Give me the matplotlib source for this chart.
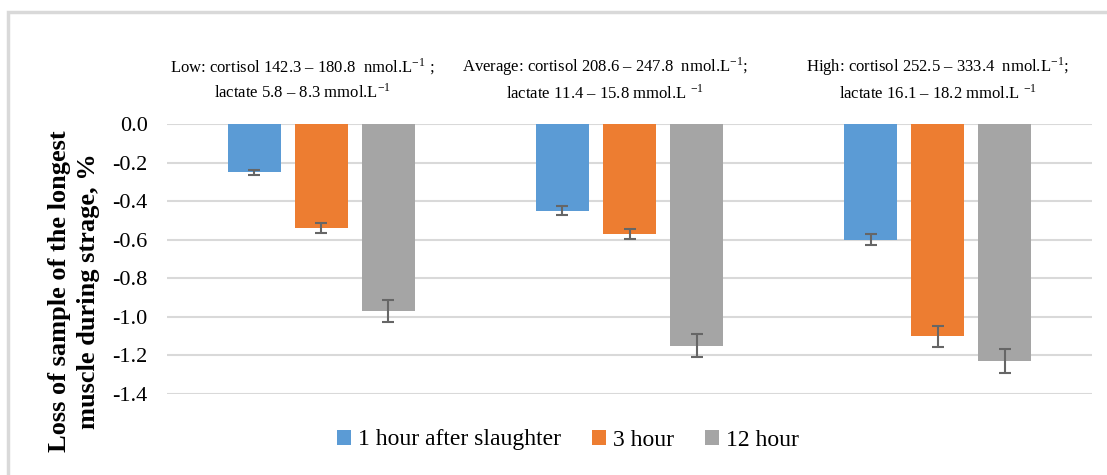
import numpy as np
import matplotlib.pyplot as plt
from matplotlib.patches import Rectangle
from matplotlib.transforms import blended_transform_factory

plt.rcParams['font.family'] = ['Liberation Serif', 'DejaVu Serif']
plt.rcParams['mathtext.fontset'] = 'stix'

# данные
groups = ['Low', 'Average', 'High']
series = ['1 hour after slaughter', '3 hour', '12 hour']
vals_1h = [-0.25, -0.45, -0.60]
vals_3h = [-0.54, -0.57, -1.10]
vals_12h = [-0.97, -1.15, -1.23]
err_1h = [0.013, 0.023, 0.03]
err_3h = [0.027, 0.028, 0.055]
err_12h = [0.055, 0.059, 0.062]
yticks = [0.0, -0.2, -0.4, -0.6, -0.8, -1.0, -1.2, -1.4]
notes = [
    'Low: cortisol 142.3 – 180.8  nmol.L$^{\\mathregular{-1}}$ ;\nlactate 5.8 – 8.3 mmol.L$^{\\mathregular{-1}}$',
    'Average: cortisol 208.6 – 247.8  nmol.L$^{\\mathregular{-1}}$;\nlactate 11.4 – 15.8 mmol.L $^{\\mathregular{-1}}$',
    'High: cortisol 252.5 – 333.4  nmol.L$^{\\mathregular{-1}}$;\nlactate 16.1 – 18.2 mmol.L $^{\\mathregular{-1}}$',
]
note_shift = [-0.06, -0.08, 0.0]

colors = ['#5B9BD5', '#ED7D31', '#A5A5A5']
serif = 'Liberation Serif'

fig = plt.figure(figsize=(11.07, 4.75), dpi=100)
ax = fig.add_axes([0.1509, 0.1705, 0.8356, 0.5685])

# рамка области диаграммы
fig.patches.append(Rectangle((8 / 1107, -0.05), 1.1, 1 - 12 / 475 + 0.05,
                             transform=fig.transFigure, fill=False,
                             edgecolor='#D9D9D9', lw=2.5))

x = np.arange(len(groups))
w = 0.172
step = 0.2175
all_vals = [vals_1h, vals_3h, vals_12h]
all_errs = [err_1h, err_3h, err_12h]
for i in range(3):
    ax.bar(x + (i - 1) * step, all_vals[i], w, color=colors[i], label=series[i],
           yerr=all_errs[i], capsize=4.5,
           error_kw=dict(ecolor='#666666', elinewidth=1.5, capthick=1.5),
           zorder=3)

ax.set_xlim(-0.5, 2.5)
ax.set_ylim(-1.4, 0.0)
ax.set_yticks(yticks)
ax.set_yticklabels([f'{t:.1f}' for t in yticks], fontsize=16, family=serif)
ax.tick_params(axis='y', length=0, pad=14)
ax.set_xticks([])
ax.grid(axis='y', color='#D9D9D9', lw=1.5, zorder=0)
ax.set_axisbelow(True)
for s in ax.spines.values():
    s.set_visible(False)

# подписи групп
tr = blended_transform_factory(ax.transData, fig.transFigure)
for i in range(3):
    ax.text(x[i] + note_shift[i], 1 - 79 / 475, notes[i], transform=tr,
            ha='center', va='center', fontsize=12, linespacing=1.45, family=serif)

fig.text(0.067, 1 - 291 / 475, 'Loss of sample of the longest\nmuscle during strage, %',
         rotation=90, ha='center', va='center', fontsize=19, fontweight='bold',
         linespacing=1.35, family=serif)

leg = ax.legend(loc='center', bbox_to_anchor=(568 / 1107, 1 - 440 / 475),
                bbox_transform=fig.transFigure, ncol=3, frameon=False,
                prop=dict(family=serif, size=17),
                handlelength=0.6, handleheight=0.6, handletextpad=0.3,
                columnspacing=1.3)
for t in leg.get_texts():
    t.set_fontfamily(serif)

fig.savefig('out.png', dpi=100)
